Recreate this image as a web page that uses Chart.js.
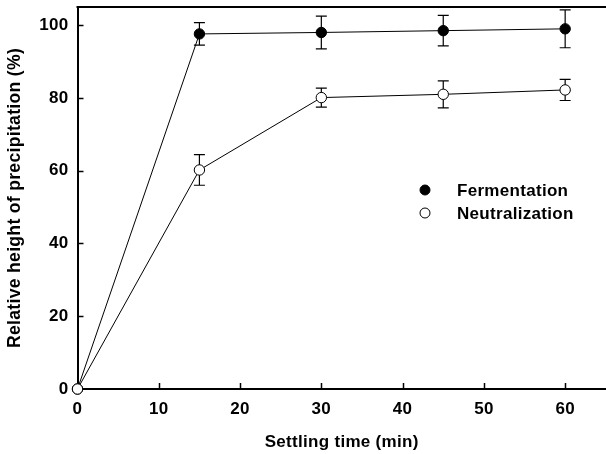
<!DOCTYPE html>
<html>
<head>
<meta charset="utf-8">
<script src="https://cdn.jsdelivr.net/npm/chart.js@4/dist/chart.umd.min.js"></script>
<style>
html,body{margin:0;padding:0;background:#fff;overflow:hidden;width:606px;height:454px;}
#wrap{width:606px;height:454px;overflow:hidden;position:relative;}
canvas{display:block;}
</style>
</head>
<body>
<div id="wrap"><canvas id="c" width="612" height="454"></canvas></div>
<script>
// ---- data ----
const settlingTime = [0, 15, 30, 45, 60];
const fermentation = [0, 97.6, 98.0, 98.5, 99.0];
const fermentationErr = [0, 3.1, 4.5, 4.2, 5.2];
const neutralization = [0, 60.2, 80.1, 81.0, 82.2];
const neutralizationErr = [0, 4.2, 2.6, 3.7, 2.9];
const xTickValues = [0, 10, 20, 30, 40, 50, 60];
const yTickValues = [0, 20, 40, 60, 80, 100];
const seriesNames = ['Fermentation', 'Neutralization'];
const xTitle = 'Settling time (min)';
const yTitle = 'Relative height of precipitation (%)';

const FONT = 'Liberation Sans, Arial, Helvetica, sans-serif';
const FSIZE = 17;
const SPACING = '0.3px';

const pts = (xs, ys) => xs.map((x, i) => ({x: x, y: ys[i]}));

const spacingPlugin = {
  id: 'spacing',
  beforeUpdate(chart) { chart.ctx.letterSpacing = SPACING; },
  beforeDraw(chart) { chart.ctx.letterSpacing = SPACING; }
};

const framePlugin = {
  id: 'frame',
  afterDraw(chart) {
    const ctx = chart.ctx, a = chart.chartArea;
    const xs = chart.scales.x, ys = chart.scales.y;
    ctx.save();
    ctx.strokeStyle = '#000';
    ctx.lineWidth = 2;
    ctx.beginPath();
    ctx.moveTo(a.left - 1, a.top);
    ctx.lineTo(a.right + 5, a.top);
    ctx.stroke();
    ctx.lineWidth = 1.5;
    ctx.beginPath();
    xTickValues.forEach(v => {
      if (v === 0) return;
      const px = Math.round(xs.getPixelForValue(v)) + 0.5;
      ctx.moveTo(px, a.bottom);
      ctx.lineTo(px, a.bottom - 6);
    });
    yTickValues.forEach(v => {
      if (v === 0) return;
      const py = Math.round(ys.getPixelForValue(v)) + 0.5;
      ctx.moveTo(a.left, py);
      ctx.lineTo(a.left + 6, py);
    });
    ctx.stroke();
    ctx.restore();
  }
};

const errorBarPlugin = {
  id: 'errbars',
  beforeDatasetsDraw(chart) {
    const ctx = chart.ctx;
    const xs = chart.scales.x, ys = chart.scales.y;
    ctx.save();
    ctx.strokeStyle = '#000';
    ctx.lineWidth = 1.2;
    chart.data.datasets.forEach(ds => {
      const errs = ds.errors;
      ds.data.forEach((p, i) => {
        const e = errs[i];
        if (!e) return;
        const px = xs.getPixelForValue(p.x);
        const top = ys.getPixelForValue(p.y + e);
        const bot = ys.getPixelForValue(p.y - e);
        ctx.beginPath();
        ctx.moveTo(px, top); ctx.lineTo(px, bot);
        ctx.moveTo(px - 5.5, top); ctx.lineTo(px + 5.5, top);
        ctx.moveTo(px - 5.5, bot); ctx.lineTo(px + 5.5, bot);
        ctx.stroke();
      });
    });
    ctx.restore();
  }
};

const legendPlugin = {
  id: 'customLegend',
  afterDraw(chart) {
    const ctx = chart.ctx;
    ctx.save();
    ctx.font = 'bold ' + FSIZE + 'px ' + FONT;
    ctx.textBaseline = 'middle';
    ctx.textAlign = 'left';
    const rows = [
      {name: seriesNames[0], fill: '#000', y: 190},
      {name: seriesNames[1], fill: '#fff', y: 213}
    ];
    rows.forEach(r => {
      ctx.beginPath();
      ctx.arc(425, r.y, 5, 0, Math.PI * 2);
      ctx.fillStyle = r.fill;
      ctx.fill();
      ctx.lineWidth = 1;
      ctx.strokeStyle = '#000';
      ctx.stroke();
      ctx.fillStyle = '#000';
      ctx.fillText(r.name, 457, r.y + 1);
    });
    ctx.restore();
  }
};

new Chart(document.getElementById('c'), {
  type: 'scatter',
  data: {
    datasets: [
      {
        label: seriesNames[0],
        data: pts(settlingTime, fermentation),
        errors: fermentationErr,
        showLine: true,
        borderColor: '#000',
        borderWidth: 1,
        backgroundColor: '#000',
        pointBackgroundColor: '#000',
        pointBorderColor: '#000',
        pointBorderWidth: 1,
        pointRadius: 5.2,
        pointHoverRadius: 5.2,
        tension: 0,
        clip: false,
        order: 1
      },
      {
        label: seriesNames[1],
        data: pts(settlingTime, neutralization),
        errors: neutralizationErr,
        showLine: true,
        borderColor: '#000',
        borderWidth: 1,
        backgroundColor: '#fff',
        pointBackgroundColor: '#fff',
        pointBorderColor: '#000',
        pointBorderWidth: 1,
        pointRadius: 5.2,
        pointHoverRadius: 5.2,
        tension: 0,
        clip: false,
        order: 0
      }
    ]
  },
  options: {
    responsive: false,
    animation: false,
    events: [],
    layout: { padding: { left: 0, right: 5, top: 7, bottom: 0 } },
    plugins: {
      legend: { display: false },
      tooltip: { enabled: false }
    },
    scales: {
      x: {
        type: 'linear',
        min: 0, max: 65,
        grid: { display: false, drawTicks: false },
        border: { display: true, color: '#000', width: 2 },
        afterBuildTicks(s) { s.ticks = xTickValues.map(v => ({value: v})); },
        afterFit(s) { s.height = 65; s.paddingLeft = 0; s.paddingRight = 0; },
        ticks: {
          color: '#000',
          padding: 10,
          maxRotation: 0,
          autoSkip: false,
          font: { family: FONT, size: FSIZE, weight: 'bold' }
        },
        title: {
          display: true, text: xTitle, color: '#000',
          font: { family: FONT, size: FSIZE, weight: 'bold' },
          padding: { top: 0, bottom: 1 }
        }
      },
      y: {
        type: 'linear',
        min: 0, max: 105,
        grid: { display: false, drawTicks: false },
        border: { display: true, color: '#000', width: 2 },
        afterBuildTicks(s) { s.ticks = yTickValues.map(v => ({value: v})); },
        afterFit(s) { s.width = 77.5; s.paddingTop = 0; s.paddingBottom = 0; },
        ticks: {
          color: '#000',
          padding: 9,
          autoSkip: false,
          font: { family: FONT, size: FSIZE, weight: 'bold' }
        },
        title: {
          display: true, text: yTitle, color: '#000',
          font: { family: FONT, size: 17.6, weight: 'bold' },
          padding: { top: 5, bottom: 0 }
        }
      }
    }
  },
  plugins: [spacingPlugin, errorBarPlugin, framePlugin, legendPlugin]
});
</script>
</body>
</html>
